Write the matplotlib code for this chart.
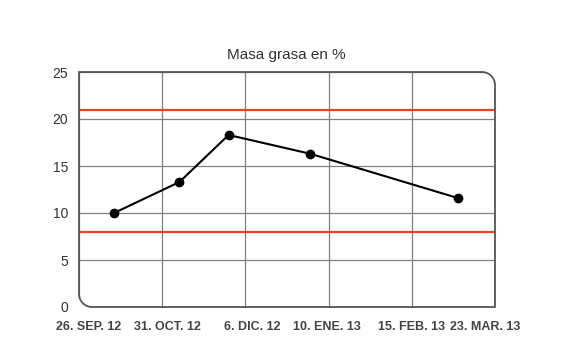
import datetime as dt
import matplotlib.pyplot as plt
from matplotlib.path import Path
from matplotlib.patches import PathPatch

plt.rcParams['font.family'] = ['Liberation Sans', 'DejaVu Sans']

# Datos
inicio = dt.date(2012, 9, 26)
fin = dt.date(2013, 3, 23)
fechas = [dt.date(2012, 10, 11), dt.date(2012, 11, 8), dt.date(2012, 11, 29),
          dt.date(2013, 1, 3), dt.date(2013, 3, 7)]
masa_grasa = [10.0, 13.3, 18.3, 16.3, 11.6]
limite_sup = 21
limite_inf = 8
etiquetas_x = ['26. SEP. 12', '31. OCT. 12', '6. DIC. 12',
               '10. ENE. 13', '15. FEB. 13', '23. MAR. 13']
ticks_y = [0, 5, 10, 15, 20, 25]

total = (fin - inicio).days
dias = [(f - inicio).days for f in fechas]
ticks_x = [total * i / 5 for i in range(6)]

fig = plt.figure(figsize=(5.7, 3.6), dpi=100)
ax = fig.add_axes([79 / 570, 53 / 360, 416 / 570, 235 / 360])

ax.set_xlim(0, total)
ax.set_ylim(0, 25)
ax.set_xticks(ticks_x)
ax.set_yticks(ticks_y)
ax.set_xticklabels([])
ax.grid(True, color='#808080', linewidth=0.9)
ax.set_axisbelow(True)
ax.tick_params(length=0)
for s in ax.spines.values():
    s.set_visible(False)

ax.set_yticklabels([str(v) for v in ticks_y], fontsize=10, color='#333333')
ax.tick_params(axis='y', pad=8)

# etiquetas de fecha desplazadas como en el original
desplaz = [10, 5, 7, -2, 0, -10]
for xt, lab, dx in zip(ticks_x, etiquetas_x, desplaz):
    ax.annotate(lab, (xt, 0), xytext=(dx * 0.72, -14.5), textcoords='offset points',
                ha='center', va='center', fontsize=9, fontweight='bold',
                color='#444444', annotation_clip=False)

l1 = ax.axhline(limite_sup, color='#e8431c', linewidth=1.6)
l2 = ax.axhline(limite_inf, color='#e8431c', linewidth=1.6)

ax.plot(dias, masa_grasa, color='black', linewidth=1.5, marker='o', markersize=6,
        zorder=4)

# marco con esquinas redondeadas (arriba dcha, abajo izq)
rx, ry = 13 / 416, 13 / 235
k = 0.55
verts = [(0, 1), (1 - rx, 1),
         (1 - rx + k * rx, 1), (1, 1 - ry + k * ry), (1, 1 - ry),
         (1, 0), (rx, 0),
         (rx - k * rx, 0), (0, ry - k * ry), (0, ry),
         (0, 1)]
codes = [Path.MOVETO, Path.LINETO,
         Path.CURVE4, Path.CURVE4, Path.CURVE4,
         Path.LINETO, Path.LINETO,
         Path.CURVE4, Path.CURVE4, Path.CURVE4,
         Path.CLOSEPOLY]
marco = PathPatch(Path(verts, codes), transform=ax.transAxes,
                  facecolor='none', edgecolor='#555555', linewidth=1.3,
                  clip_on=False, zorder=5)
ax.add_patch(marco)

for ln in ax.get_xgridlines() + ax.get_ygridlines() + [l1, l2]:
    ln.set_clip_path(marco)

fig.text(286 / 570, 1 - 55 / 360, 'Masa grasa en %', ha='center', va='center',
         fontsize=11, color='#333333')

plt.savefig('out.png', dpi=100)
